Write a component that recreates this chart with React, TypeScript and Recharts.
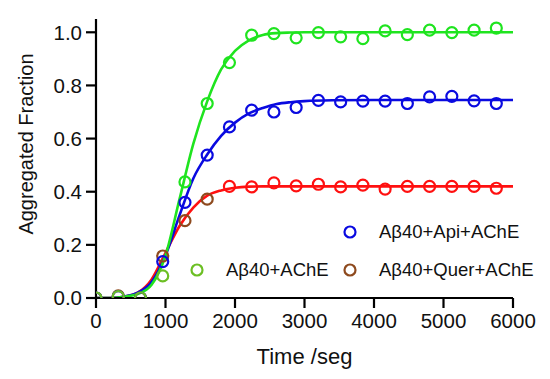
import React from 'react';
import { ComposedChart, Line, Scatter, XAxis, YAxis, Cell } from 'recharts';

const timePoints = [0, 320, 640, 960, 1280, 1600, 1920, 2240, 2560, 2880, 3200, 3520, 3840, 4160, 4480, 4800, 5120, 5440, 5760];
const acheVals = [0, 0.005, 0, 0.083, 0.437, 0.732, 0.886, 0.989, 0.995, 0.979, 0.999, 0.983, 0.976, 1.005, 0.991, 1.008, 0.999, 1.008, 1.016];
const apiVals = [0, 0.005, 0, 0.137, 0.36, 0.538, 0.644, 0.707, 0.7, 0.717, 0.744, 0.738, 0.741, 0.741, 0.732, 0.757, 0.759, 0.742, 0.732];
const querVals = [0, 0.008, 0, 0.158, 0.291, 0.372, 0.42, 0.418, 0.433, 0.422, 0.428, 0.418, 0.425, 0.41, 0.42, 0.42, 0.42, 0.42, 0.413];

const fitTimes = [0, 200, 400, 600, 800, 1000, 1200, 1400, 1600, 1800, 2000, 2200, 2400, 2600, 2800, 3000, 3400, 4000, 5000, 6000];
const acheFit = [0, 0, 0.005, 0.015, 0.05, 0.16, 0.37, 0.58, 0.74, 0.86, 0.93, 0.97, 0.99, 0.997, 0.999, 1.0, 1.0, 1.0, 1.0, 1.0];
const apiFit = [0, 0, 0.005, 0.02, 0.06, 0.16, 0.31, 0.45, 0.54, 0.61, 0.66, 0.695, 0.715, 0.73, 0.737, 0.741, 0.744, 0.745, 0.745, 0.745];
const querFit = [0, 0, 0.005, 0.02, 0.07, 0.17, 0.27, 0.34, 0.385, 0.405, 0.415, 0.419, 0.42, 0.42, 0.42, 0.42, 0.42, 0.42, 0.42, 0.42];

const xTicks = [0, 1000, 2000, 3000, 4000, 5000, 6000];
const yTicks = [0, 0.2, 0.4, 0.6, 0.8, 1.0];

const GREEN = '#1fe41f';
const GREEN_EARLY = '#6cbf24';
const BLUE = '#0a0ae0';
const RED = '#ff1010';
const BROWN = '#8e4a1e';

const pts = (vals: number[]) => timePoints.map((x, i) => ({ x, y: vals[i] }));
const fit = (vals: number[]) => fitTimes.map((x, i) => ({ x, y: vals[i] }));

const Ring = (props: any) => {
  const { cx, cy, fill } = props;
  return <circle cx={cx} cy={cy} r={5.5} fill="none" stroke={fill} strokeWidth={2.2} />;
};

const font = 'Arial, "Liberation Sans", sans-serif';

const LegendItem = ({ color, label, x, y }: { color: string; label: string; x: number; y: number }) => (
  <div style={{ position: 'absolute', left: x, top: y, display: 'flex', alignItems: 'center', fontFamily: font, fontSize: 18.5, color: '#111', whiteSpace: 'nowrap' }}>
    <svg width={14} height={14} style={{ marginRight: 22 }}>
      <circle cx={7} cy={7} r={5.5} fill="none" stroke={color} strokeWidth={2.2} />
    </svg>
    {label}
  </div>
);

export default function App() {
  const tickStyle = { fontSize: 20.5, fill: '#111', fontFamily: font };
  return (
    <div style={{ position: 'absolute', left: 0, top: 0, width: 550, height: 379, background: '#fff' }}>
      <ComposedChart width={550} height={379} margin={{ top: 19, right: 37, left: 0, bottom: 51 }}>
        <XAxis
          dataKey="x"
          type="number"
          domain={[0, 6000]}
          ticks={xTicks}
          tick={tickStyle}
          tickSize={10}
          tickMargin={5}
          height={30}
          axisLine={{ stroke: '#000', strokeWidth: 2.2 }}
          tickLine={{ stroke: '#000', strokeWidth: 2.2 }}
          allowDataOverflow
        />
        <YAxis
          dataKey="y"
          type="number"
          domain={[0, 1.05]}
          ticks={yTicks}
          tick={tickStyle}
          tickFormatter={(v: number) => v.toFixed(1)}
          tickSize={10}
          tickMargin={4}
          width={96}
          axisLine={{ stroke: '#000', strokeWidth: 2.2 }}
          tickLine={{ stroke: '#000', strokeWidth: 2.2 }}
          allowDataOverflow
        />
        <Line data={fit(querFit)} dataKey="y" type="monotone" stroke={RED} strokeWidth={2.6} dot={false} isAnimationActive={false} />
        <Line data={fit(apiFit)} dataKey="y" type="monotone" stroke={BLUE} strokeWidth={2.6} dot={false} isAnimationActive={false} />
        <Line data={fit(acheFit)} dataKey="y" type="monotone" stroke={GREEN} strokeWidth={2.6} dot={false} isAnimationActive={false} />
        <Scatter data={pts(querVals)} dataKey="y" fill={RED} shape={Ring} isAnimationActive={false}>
          {querVals.map((_, i) => (
            <Cell key={i} fill={timePoints[i] <= 1600 ? BROWN : RED} />
          ))}
        </Scatter>
        <Scatter data={pts(apiVals)} dataKey="y" fill={BLUE} shape={Ring} isAnimationActive={false} />
        <Scatter data={pts(acheVals)} dataKey="y" fill={GREEN} shape={Ring} isAnimationActive={false}>
          {acheVals.map((_, i) => (
            <Cell key={i} fill={timePoints[i] <= 960 ? GREEN_EARLY : GREEN} />
          ))}
        </Scatter>
      </ComposedChart>
      <div style={{ position: 'absolute', left: 0, width: 609, top: 344, textAlign: 'center', fontFamily: font, fontSize: 22, color: '#111' }}>
        Time /seg
      </div>
      <div style={{ position: 'absolute', left: 26, top: 144, transform: 'translate(-50%, -50%) rotate(-90deg)', fontFamily: font, fontSize: 20, color: '#111', whiteSpace: 'nowrap' }}>
        Aggregated Fraction
      </div>
      <LegendItem color={BLUE} label="Aβ40+Api+AChE" x={343} y={221} />
      <LegendItem color={GREEN_EARLY} label="Aβ40+AChE" x={190} y={259} />
      <LegendItem color={BROWN} label="Aβ40+Quer+AChE" x={343} y={259} />
    </div>
  );
}
